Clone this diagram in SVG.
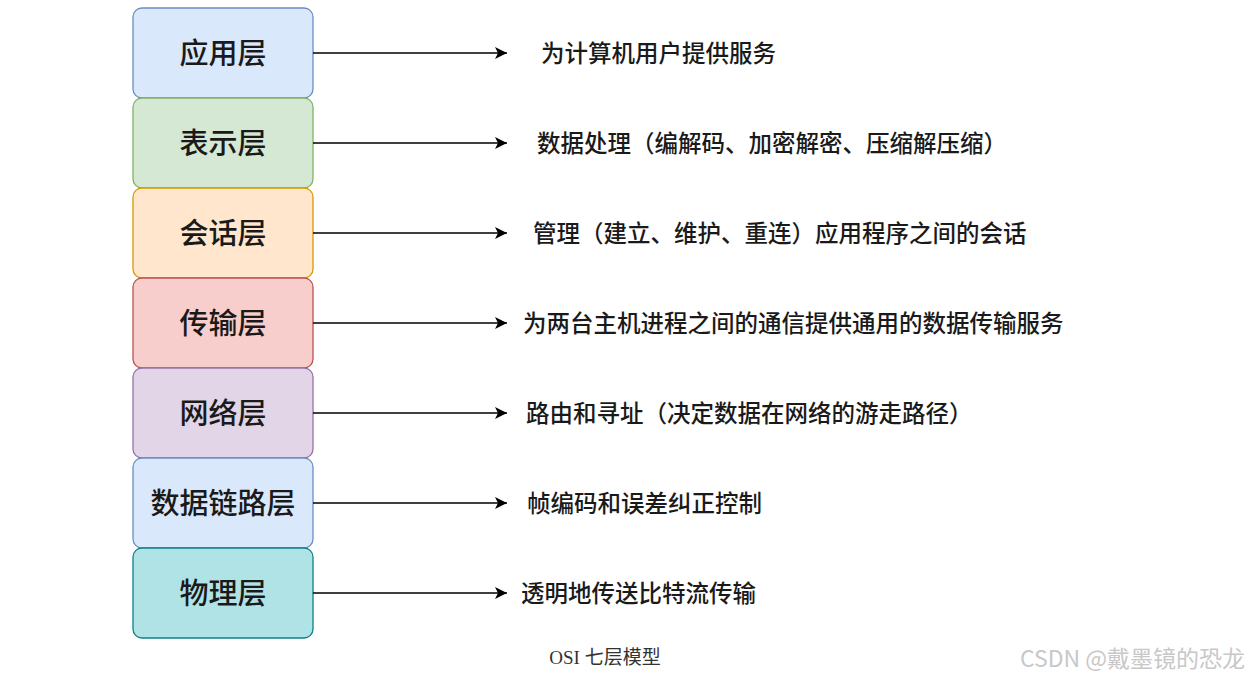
<svg xmlns="http://www.w3.org/2000/svg" width="1249" height="678" viewBox="0 0 1249 678">
<style>
.box{stroke-width:1.3}
.lbl{font-family:"Noto Sans CJK SC",sans-serif;font-size:29px;font-weight:500;fill:#1a1a1a;text-anchor:middle;dominant-baseline:central}
.desc{font-family:"Noto Sans CJK SC",sans-serif;font-size:23.5px;font-weight:500;fill:#1a1a1a;dominant-baseline:central}
.conn line{stroke:#000;stroke-width:1.6;marker-end:url(#ah)}
</style>
<defs><marker id="ah" viewBox="0 0 10 10" refX="10" refY="5" markerWidth="12" markerHeight="12" markerUnits="userSpaceOnUse" orient="auto"><path d="M0,0 L10,5 L0,10 L2.5,5 z" fill="#000"/></marker></defs>
<rect width="1249" height="678" fill="#fff"/>
<g id="n1"><rect class="box" x="133" y="8" width="180" height="90" rx="9" fill="#dae8fc" stroke="#6c8ebf"/><text class="lbl" x="223" y="51">应用层</text></g>
<g id="n2"><rect class="box" x="133" y="98" width="180" height="90" rx="9" fill="#d5e8d4" stroke="#82b366"/><text class="lbl" x="223" y="141">表示层</text></g>
<g id="n3"><rect class="box" x="133" y="188" width="180" height="90" rx="9" fill="#ffe6cc" stroke="#d79b00"/><text class="lbl" x="223" y="231">会话层</text></g>
<g id="n4"><rect class="box" x="133" y="278" width="180" height="90" rx="9" fill="#f8cecc" stroke="#b85450"/><text class="lbl" x="223" y="321">传输层</text></g>
<g id="n5"><rect class="box" x="133" y="368" width="180" height="90" rx="9" fill="#e1d5e7" stroke="#9673a6"/><text class="lbl" x="223" y="411">网络层</text></g>
<g id="n6"><rect class="box" x="133" y="458" width="180" height="90" rx="9" fill="#dae8fc" stroke="#6c8ebf"/><text class="lbl" x="223" y="501">数据链路层</text></g>
<g id="n7"><rect class="box" x="133" y="548" width="180" height="90" rx="9" fill="#b0e3e6" stroke="#0e8088"/><text class="lbl" x="223" y="591">物理层</text></g>
<g class="conn">
<line x1="313" y1="53" x2="507" y2="53"/><line x1="313" y1="143" x2="507" y2="143"/><line x1="313" y1="233" x2="507" y2="233"/><line x1="313" y1="323" x2="507" y2="323"/><line x1="313" y1="413" x2="507" y2="413"/><line x1="313" y1="503" x2="507" y2="503"/><line x1="313" y1="593" x2="507" y2="593"/>
</g>
<text class="desc" x="541" y="52">为计算机用户提供服务</text>
<text class="desc" x="537" y="142">数据处理（编解码、加密解密、压缩解压缩）</text>
<text class="desc" x="533" y="232">管理（建立、维护、重连）应用程序之间的会话</text>
<text class="desc" x="523" y="322">为两台主机进程之间的通信提供通用的数据传输服务</text>
<text class="desc" x="526" y="412">路由和寻址（决定数据在网络的游走路径）</text>
<text class="desc" x="527" y="502">帧编码和误差纠正控制</text>
<text class="desc" x="521" y="592">透明地传送比特流传输</text>
<text x="605" y="664" text-anchor="middle" font-family="'Liberation Serif','Noto Sans CJK SC',serif" font-size="19" fill="#333">OSI 七层模型</text>
<text x="1245" y="667" text-anchor="end" font-family="'Noto Sans CJK SC',sans-serif" font-size="23" fill="#c8c8c8">CSDN @戴墨镜的恐龙</text>
</svg>
